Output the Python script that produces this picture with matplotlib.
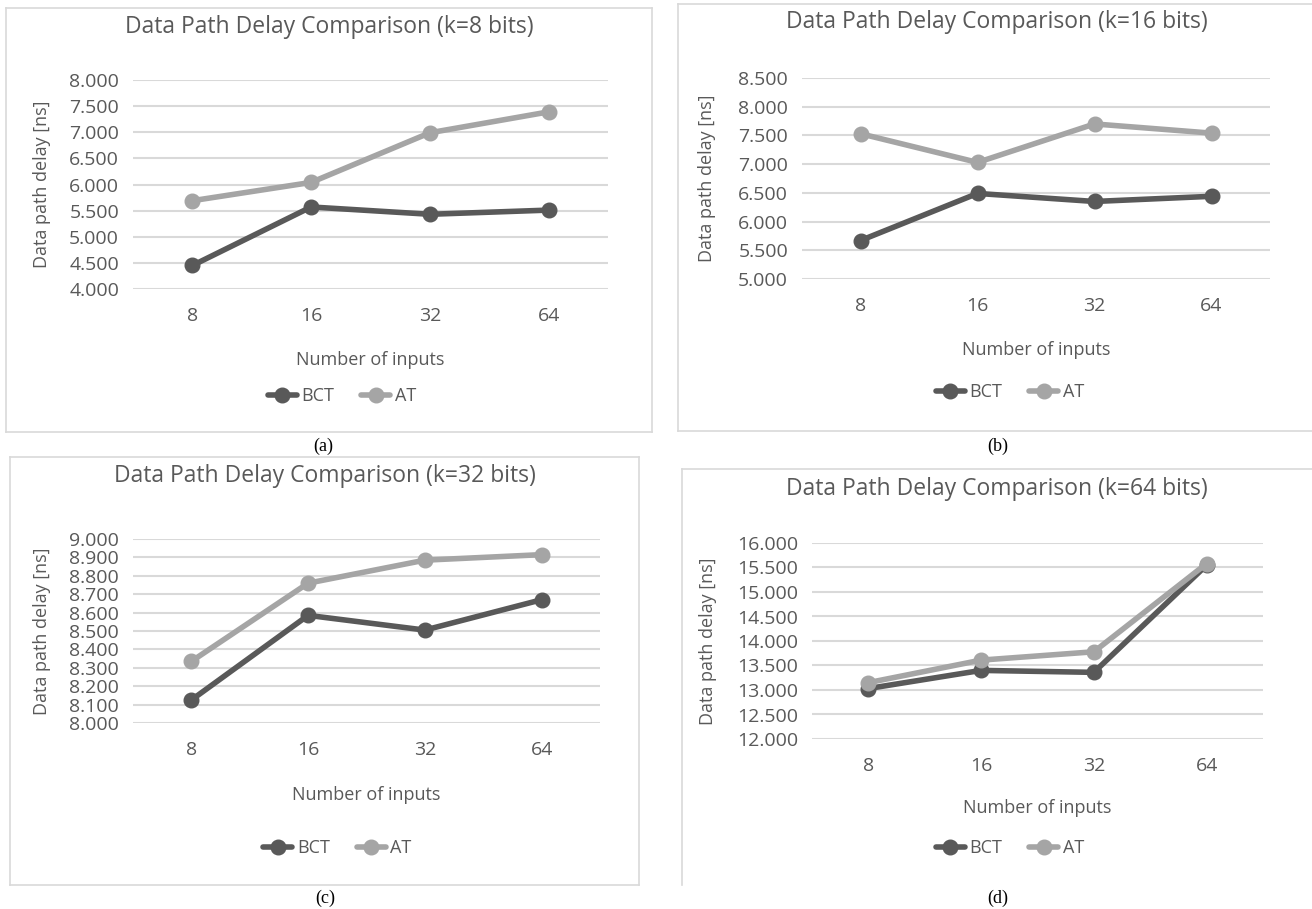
import matplotlib
matplotlib.use("Agg")
import matplotlib.pyplot as plt
from matplotlib.lines import Line2D
from matplotlib.ticker import FormatStrFormatter

plt.rcParams['font.family'] = ['Open Sans', 'DejaVu Sans']

inputs = ["8", "16", "32", "64"]

bct_k8 = [4.45, 5.57, 5.43, 5.51]
at_k8 = [5.69, 6.04, 6.99, 7.39]
bct_k16 = [5.67, 6.49, 6.35, 6.44]
at_k16 = [7.53, 7.03, 7.70, 7.54]
bct_k32 = [8.125, 8.585, 8.505, 8.67]
at_k32 = [8.335, 8.76, 8.885, 8.915]
bct_k64 = [13.03, 13.40, 13.36, 15.55]
at_k64 = [13.15, 13.61, 13.78, 15.58]

titles = ["Data Path Delay Comparison (k=8 bits)",
          "Data Path Delay Comparison (k=16 bits)",
          "Data Path Delay Comparison (k=32 bits)",
          "Data Path Delay Comparison (k=64 bits)"]
captions = ["(a)", "(b)", "(c)", "(d)"]

W, H = 1312, 909
fig = plt.figure(figsize=(W / 100, H / 100), dpi=100)

TXT = "#595959"
C_BCT = "#595959"
C_AT = "#a5a5a5"
GRID = "#d9d9d9"

def fx(x):
    return x / W

def fy(y):
    return 1 - y / H

def border(x0, y0, x1, y1, sides):
    pts = {"l": ([x0, x0], [y0, y1]), "r": ([x1, x1], [y0, y1]),
           "t": ([x0, x1], [y0, y0]), "b": ([x0, x1], [y1, y1])}
    for s in sides:
        xs, ys = pts[s]
        fig.add_artist(Line2D([fx(v) for v in xs], [fy(v) for v in ys],
                              transform=fig.transFigure, color=GRID, lw=1.2))

panels = [
    dict(bct=bct_k8, at=at_k8, ylim=(4.0, 8.0), step=0.5,
         ax=(133, 80, 608, 289), box=(6, 8, 652, 432), sides="lrtb",
         title_y=27, xl_y=360, leg_y=396, cap=(323, 446), ylab_x=42),
    dict(bct=bct_k16, at=at_k16, ylim=(5.0, 8.5), step=0.5,
         ax=(802, 78, 1270, 279), box=(678, 4, 1316, 431), sides="ltb",
         title_y=22, xl_y=350, leg_y=392, cap=(998, 446), ylab_x=707),
    dict(bct=bct_k32, at=at_k32, ylim=(8.0, 9.0), step=0.1,
         ax=(133, 539, 600, 723), box=(10, 457, 639, 885), sides="lrtb",
         title_y=476, xl_y=795, leg_y=848, cap=(325, 898), ylab_x=42),
    dict(bct=bct_k64, at=at_k64, ylim=(12.0, 16.0), step=0.5,
         ax=(812, 543, 1263, 739), box=(682, 469, 1312, 885), sides="lt",
         title_y=489, xl_y=808, leg_y=848, cap=(998, 898), ylab_x=708),
]

for i, p in enumerate(panels):
    x0, y0, x1, y1 = p["box"]
    border(x0, y0, x1, y1, p["sides"])
    ax0, ay0, ax1, ay1 = p["ax"]
    ax = fig.add_axes([fx(ax0), fy(ay1), fx(ax1 - ax0), (ay1 - ay0) / H])
    xs = list(range(len(inputs)))
    ax.plot(xs, p["bct"], color=C_BCT, lw=4.0, marker="o", ms=10.5,
            label="BCT", solid_capstyle="round", zorder=3)
    ax.plot(xs, p["at"], color=C_AT, lw=4.0, marker="o", ms=10.5,
            label="AT", solid_capstyle="round", zorder=3)
    lo, hi = p["ylim"]
    ax.set_xlim(-0.5, len(inputs) - 0.5)
    ax.set_ylim(lo, hi)
    n = int(round((hi - lo) / p["step"]))
    ticks = [lo + k * p["step"] for k in range(n + 1)]
    ax.set_yticks(ticks)
    ax.yaxis.set_major_formatter(FormatStrFormatter("%.3f"))
    ax.set_xticks(xs)
    ax.set_xticklabels(inputs)
    ax.grid(axis="y", color=GRID, lw=1.5)
    ax.set_axisbelow(True)
    for s in ax.spines.values():
        s.set_visible(False)
    ax.tick_params(length=0, labelsize=14, labelcolor=TXT)
    ax.tick_params(axis="x", pad=13)
    ax.tick_params(axis="y", pad=10)
    bc = (x0 + x1) / 2
    fig.text(fx(bc), fy(p["title_y"]), titles[i], ha="center",
             va="center", fontsize=16.5, color=TXT)
    fig.text(fx((ax0 + ax1) / 2), fy(p["xl_y"]), "Number of inputs",
             ha="center", va="center", fontsize=13, color=TXT)
    fig.text(fx(p["ylab_x"]), fy((ay0 + ay1) / 2), "Data path delay [ns]",
             ha="center", va="center", rotation=90, fontsize=13, color=TXT)
    fig.legend(handles=ax.get_lines(), labels=["BCT", "AT"],
               loc="center", bbox_to_anchor=(fx(bc + 13), fy(p["leg_y"])),
               ncol=2, frameon=False, fontsize=13, handlelength=1.6,
               handletextpad=0.25, columnspacing=1.5, labelcolor=TXT)
    fig.text(fx(p["cap"][0]), fy(p["cap"][1]), captions[i], ha="center",
             va="center", fontsize=13, color="black", family="Liberation Serif")

fig.savefig("out.png", dpi=100, facecolor="white")
